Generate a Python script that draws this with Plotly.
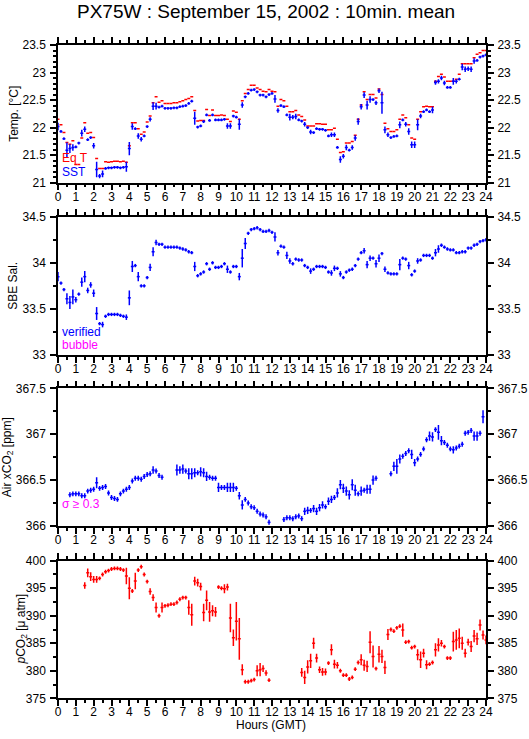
import plotly.graph_objects as go

N = None

# ---------------- data: 10-min means, one row per hour (6 values), last value at 24:00 ----
sst_rows = [
    [22.02, 21.93, 21.80, 21.59, 21.62, 21.64],
    [21.65, 21.72, 21.90, 21.97, 21.78, 21.82],
    [21.67, 21.24, 21.12, 21.16, 21.26, 21.27],
    [21.27, 21.28, 21.28, 21.27, 21.28, 21.29],
    [21.62, 22.02, 21.98, 21.85, 21.79, 21.85],
    [22.02, 22.15, 22.39, 22.39, 22.37, 22.39],
    [22.35, 22.35, 22.35, 22.36, 22.36, 22.38],
    [22.39, 22.40, 22.44, 22.48, 22.17, 22.01],
    [22.03, 22.11, 22.23, 22.13, 22.23, 22.14],
    [22.14, 22.14, 22.15, 22.03, 22.03, 22.21],
    [22.19, 22.06, 22.41, 22.56, 22.62, 22.68],
    [22.69, 22.65, 22.59, 22.59, 22.56, 22.60],
    [22.62, 22.52, 22.31, 22.40, 22.38, 22.23],
    [22.19, 22.19, 22.20, 22.14, 22.12, 22.06],
    [22.00, 21.92, 21.91, 21.98, 21.97, 21.97],
    [21.95, 21.85, 21.87, 21.87, 21.64, 21.42],
    [21.48, 21.64, 21.59, 21.64, 21.81, 22.11],
    [22.38, 22.59, 22.41, 22.51, 22.51, 22.45],
    [22.67, 22.45, 21.96, 21.87, 21.82, 21.84],
    [21.85, 22.05, 22.14, 22.06, 21.93, 21.69],
    [21.69, 22.05, 22.21, 22.29, 22.32, 22.29],
    [22.32, 22.82, 22.84, 22.90, 22.81, 22.73],
    [22.73, 22.84, 22.84, 22.88, 23.10, 23.06],
    [23.07, 23.06, 23.21, 23.22, 23.28, 23.30],
    [23.32],
]
eqt_rows = [
    [22.15, 22.05, 21.91, 21.73, 21.70, 21.76],
    [21.33, 21.33, 21.81, 22.09, 21.90, 21.91],
    [21.82, 21.44, 21.26, 21.26, 21.38, 21.37],
    [21.38, 21.39, 21.39, 21.38, 21.39, 21.37],
    [21.67, 22.09, 22.09, 21.98, 21.88, 21.92],
    [22.10, 22.21, 22.45, 22.56, 22.46, 22.49],
    [22.44, 22.44, 22.44, 22.45, 22.45, 22.47],
    [22.49, 22.51, 22.53, 22.56, 22.31, 22.12],
    [22.13, 22.13, 22.33, 22.22, 22.32, 22.22],
    [22.22, 22.23, 22.22, 22.15, 22.11, 22.30],
    [22.28, 22.15, 22.49, 22.62, 22.69, 22.77],
    [22.77, 22.72, 22.69, 22.66, 22.65, 22.69],
    [22.66, 22.65, 22.39, 22.51, 22.49, 22.39],
    [22.29, 22.29, 22.31, 22.23, 22.20, 22.14],
    [22.03, 22.03, 22.03, 22.07, 22.07, 22.06],
    [22.06, 21.96, 21.96, 21.99, 21.79, 21.55],
    [21.56, 21.72, 21.72, 21.75, 21.86, 22.15],
    [22.41, 22.65, 22.51, 22.60, 22.60, 22.54],
    [22.70, 22.60, 22.08, 21.98, 21.93, 21.93],
    [21.96, 22.15, 22.23, 22.18, 22.05, 21.81],
    [21.79, 22.15, 22.29, 22.38, 22.39, 22.38],
    [22.38, 22.84, 22.93, 22.97, 22.92, 22.84],
    [22.84, 22.84, 22.88, 22.97, 23.16, 23.16],
    [23.16, 23.16, 23.27, 23.33, 23.36, 23.40],
    [23.40],
]
sal_rows = [
    [33.85, 33.78, 33.71, 33.61, 33.57, 33.63],
    [33.60, 33.66, 33.79, 33.85, 33.70, 33.76],
    [33.67, 33.45, 33.34, 33.33, 33.42, 33.44],
    [33.44, 33.44, 33.44, 33.43, 33.42, 33.41],
    [33.62, 33.96, 33.97, 33.85, 33.75, 33.75],
    [33.84, 33.95, 34.12, 34.22, 34.20, 34.20],
    [34.17, 34.17, 34.17, 34.17, 34.17, 34.16],
    [34.15, 34.14, 34.12, 34.11, 33.96, 33.86],
    [33.88, 33.90, 33.99, 33.93, 34.00, 33.95],
    [33.95, 33.96, 33.99, 33.93, 33.90, 33.96],
    [33.96, 33.85, 34.05, 34.21, 34.32, 34.36],
    [34.37, 34.38, 34.36, 34.34, 34.34, 34.35],
    [34.33, 34.28, 34.11, 34.18, 34.17, 34.08],
    [34.02, 33.99, 34.04, 34.03, 34.03, 33.97],
    [33.95, 33.91, 33.93, 33.96, 33.96, 33.96],
    [33.95, 33.90, 33.89, 33.94, 33.94, 33.88],
    [33.84, 33.90, 33.92, 33.93, 33.97, 34.04],
    [34.11, 34.13, 33.98, 34.05, 34.05, 33.99],
    [34.05, 34.10, 33.93, 33.89, 33.88, 33.88],
    [33.88, 33.98, 34.05, 34.04, 33.97, 33.87],
    [33.91, 34.02, 34.03, 34.08, 34.08, 34.08],
    [34.05, 34.11, 34.15, 34.19, 34.17, 34.15],
    [34.14, 34.14, 34.11, 34.11, 34.12, 34.12],
    [34.16, 34.16, 34.19, 34.20, 34.23, 34.24],
    [34.25],
]
xco2_rows = [
    [N, N, N, N, 366.34, 366.35],
    [366.35, 366.35, 366.33, 366.33, 366.38, 366.39],
    [366.40, 366.47, 366.41, 366.42, 366.43, 366.36],
    [366.31, 366.30, 366.29, 366.35, 366.38, 366.40],
    [366.42, 366.49, 366.52, 366.52, 366.51, 366.54],
    [366.56, 366.57, 366.61, 366.60, 366.55, 366.53],
    [N, N, N, N, 366.61, 366.61],
    [366.62, 366.60, 366.57, 366.57, 366.58, 366.58],
    [366.59, 366.58, 366.54, 366.53, 366.52, 366.52],
    [366.42, 366.42, 366.42, 366.42, 366.42, 366.42],
    [366.41, 366.33, 366.23, 366.29, 366.25, 366.21],
    [366.20, 366.16, 366.13, 366.12, 366.10, 366.04],
    [N, N, N, N, 366.07, 366.09],
    [366.09, 366.08, 366.10, 366.11, 366.08, 366.16],
    [366.17, 366.17, 366.19, 366.16, 366.20, 366.23],
    [366.21, 366.27, 366.29, 366.31, 366.36, 366.45],
    [366.41, 366.38, 366.34, 366.45, 366.39, 366.35],
    [366.38, 366.39, 366.40, 366.40, 366.50, 366.52],
    [N, N, N, N, 366.57, 366.65],
    [366.65, 366.73, 366.76, 366.79, 366.82, 366.78],
    [366.69, 366.73, 366.78, 366.84, 366.94, 366.98],
    [366.97, 367.05, 367.02, 366.93, 366.91, 366.88],
    [366.84, 366.83, 366.85, 366.87, 366.89, 367.01],
    [367.02, 367.04, 366.98, 366.98, 367.01, 367.19],
    [N],
]
pco2_rows = [
    [N, N, N, N, N, N],
    [N, N, N, 395.5, 397.8, 397.1],
    [396.6, 396.6, 396.8, 397.5, 398.0, 398.2],
    [398.5, 398.6, 398.6, 398.5, 398.3, 397.2],
    [395.0, 394.5, 396.3, 398.3, 398.9, 397.5],
    [396.2, 394.4, 393.3, 391.5, 390.0, 391.5],
    [391.8, 391.9, 392.1, 392.1, 392.4, 393.0],
    [393.3, 393.3, 391.5, 390.2, 396.3, 396.0],
    [395.3, 390.6, 392.8, 390.7, 390.9, 390.7],
    [395.2, 395.0, 394.9, 395.2, 389.6, 386.0],
    [389.0, 385.8, 380.2, 378.0, 378.0, 378.2],
    [378.4, 380.0, 380.2, 380.4, 379.6, 378.3],
    [N, N, N, N, N, N],
    [N, N, N, N, 379.7, 378.8],
    [380.7, 381.8, 385.0, 382.3, 380.2, 379.8],
    [379.8, 381.4, 383.8, 381.2, 381.0, 380.0],
    [379.2, 379.2, 378.5, 378.8, 380.3, 381.5],
    [382.0, 381.0, 380.8, 385.2, 382.6, 380.4],
    [383.0, 382.6, 380.6, 386.6, 387.5, 387.2],
    [387.8, 388.1, 387.4, 385.2, 385.3, 384.2],
    [384.4, 382.9, 382.0, 383.2, 381.1, 381.2],
    [381.5, 383.8, 384.7, 385.0, 384.4, 382.3],
    [382.3, 385.3, 385.6, 385.9, 385.0, 383.2],
    [385.2, 384.4, 386.3, 385.8, 388.3, 386.5],
    [385.6],
]

# standard deviations (vertical bars): typical value + larger ones by time (h)
sst_sd_typ = 0.025
sst_sd_big = {0.0: 0.07, 0.5: 0.14, 0.67: 0.08, 0.83: 0.06, 1.33: 0.06, 1.5: 0.05, 2.0: 0.05,
              2.17: 0.14, 2.33: 0.04, 2.5: 0.06, 3.83: 0.09, 4.0: 0.12, 4.17: 0.06, 4.5: 0.05,
              4.67: 0.04, 5.17: 0.04, 5.33: 0.07, 5.5: 0.06, 7.67: 0.12, 9.5: 0.05, 9.67: 0.05,
              10.17: 0.1, 10.33: 0.05, 12.17: 0.07, 12.33: 0.04, 13.0: 0.06, 13.17: 0.04,
              13.33: 0.05, 13.83: 0.04, 14.17: 0.04, 15.33: 0.04, 15.5: 0.04, 15.83: 0.06,
              16.0: 0.04, 16.17: 0.05, 16.5: 0.04, 16.67: 0.05, 16.83: 0.06, 17.0: 0.05,
              17.17: 0.05, 17.33: 0.08, 17.5: 0.06, 17.83: 0.04, 18.0: 0.04, 18.17: 0.2,
              18.33: 0.06, 18.5: 0.04, 19.17: 0.06, 19.5: 0.04, 19.67: 0.06, 19.83: 0.06,
              20.0: 0.06, 20.17: 0.1, 20.33: 0.04, 21.0: 0.06, 21.17: 0.04, 21.33: 0.04,
              21.5: 0.04, 21.67: 0.04, 22.17: 0.06, 22.33: 0.04, 22.67: 0.06, 22.83: 0.05,
              23.0: 0.04, 23.17: 0.05, 23.33: 0.05}
sal_sd_typ = 0.018
sal_sd_big = {0.0: 0.05, 0.5: 0.06, 0.67: 0.07, 0.83: 0.08, 1.0: 0.03, 1.33: 0.05, 1.5: 0.06,
              1.67: 0.03, 1.83: 0.03, 2.0: 0.04, 2.17: 0.07, 2.5: 0.03, 3.83: 0.03, 4.0: 0.08,
              4.17: 0.06, 4.5: 0.05, 5.17: 0.04, 5.33: 0.05, 5.5: 0.03, 7.67: 0.05, 9.5: 0.04,
              10.17: 0.04, 10.33: 0.1, 10.5: 0.06, 12.17: 0.05, 12.33: 0.03, 12.83: 0.04,
              13.0: 0.03, 14.17: 0.03, 15.33: 0.03, 15.5: 0.03, 15.83: 0.03, 17.17: 0.03,
              17.33: 0.04, 17.5: 0.03, 17.83: 0.04, 18.0: 0.04, 18.33: 0.03, 19.17: 0.06,
              19.67: 0.04, 20.17: 0.03, 21.17: 0.04, 21.33: 0.04}
xco2_sd_typ = 0.027
xco2_sd_big = {2.17: 0.06, 5.33: 0.04, 6.67: 0.06, 6.83: 0.04, 7.0: 0.05, 7.33: 0.06, 7.5: 0.06,
               7.67: 0.05, 8.0: 0.05, 8.17: 0.05, 8.33: 0.05, 9.0: 0.05, 9.5: 0.05, 9.67: 0.05,
               9.83: 0.05, 10.17: 0.04, 10.33: 0.05, 13.83: 0.04, 14.0: 0.04, 14.33: 0.04,
               14.5: 0.04, 14.67: 0.04, 14.83: 0.04, 15.17: 0.04, 15.33: 0.04, 15.67: 0.05,
               15.83: 0.05, 16.0: 0.05, 16.17: 0.05, 16.33: 0.05, 16.5: 0.06, 16.67: 0.06,
               17.0: 0.05, 17.33: 0.05, 17.5: 0.05, 17.67: 0.05, 18.83: 0.05, 19.0: 0.08,
               19.17: 0.05, 19.83: 0.05, 20.0: 0.04, 20.83: 0.05, 21.0: 0.05, 21.33: 0.08,
               21.5: 0.05, 22.17: 0.04, 23.33: 0.05, 23.5: 0.05, 23.83: 0.07}
pco2_sd_typ = 0.35
pco2_sd_big = {1.5: 0.6, 1.67: 0.8, 1.83: 0.8, 2.0: 0.6, 2.17: 0.6, 3.83: 1.5, 4.0: 2.0,
               4.33: 1.5, 5.17: 0.6, 5.33: 0.6, 5.5: 0.9, 5.83: 0.9, 7.33: 1.3, 7.5: 2.0,
               7.67: 0.8, 7.83: 0.7, 8.0: 0.7, 8.17: 1.6, 8.33: 1.8, 8.5: 1.8, 8.67: 1.0,
               8.83: 0.9, 9.33: 0.8, 9.5: 0.6, 9.67: 2.6, 9.83: 1.5, 10.0: 3.5, 10.17: 3.8,
               10.33: 1.0, 11.17: 1.0, 11.33: 1.2, 11.5: 0.6, 11.67: 0.5, 13.67: 0.8,
               13.83: 1.2, 14.0: 1.2, 14.17: 1.3, 14.33: 1.0, 14.5: 0.8, 14.67: 0.6, 14.83: 0.7,
               15.0: 0.6, 15.33: 1.0, 15.5: 0.8, 15.67: 0.6, 17.0: 1.0, 17.17: 1.0, 17.33: 1.0,
               17.5: 2.0, 17.67: 2.0, 18.0: 1.5, 18.17: 1.2, 18.33: 1.2, 18.5: 1.0, 19.33: 1.2,
               20.17: 1.0, 20.33: 1.5, 20.5: 0.8, 20.67: 0.8, 21.17: 1.2, 21.33: 1.2, 21.5: 0.6,
               22.17: 1.8, 22.33: 1.8, 22.5: 1.8, 22.67: 1.2, 22.83: 0.8, 23.0: 0.6, 23.17: 1.0,
               23.33: 1.1, 23.5: 1.1, 23.67: 1.0, 23.83: 0.8, 24.0: 0.8}

half_interval = 5 / 60  # each mean covers 10 minutes

x_ticks = list(range(25))
panel_ranges = [[21, 23.5], [33, 34.5], [366, 367.5], [375, 400]]
panel_dtick = [0.5, 0.5, 0.5, 5]
panel_minor = [0.1, 0.25, 0.25, 2.5]


def flat(rows):
    return [v for r in rows for v in r]


sst, eqt, sal, xco2, pco2 = (flat(r) for r in (sst_rows, eqt_rows, sal_rows, xco2_rows, pco2_rows))
t = [k / 6 for k in range(len(sst))]


def sds(vals, typ, big):
    return [None if v is None else big.get(round(k / 6, 2), typ) for k, v in enumerate(vals)]


BLUE, RED, MAG = "#0000ff", "#ff0000", "#ff00ff"
FONT = "Liberation Sans, Arial, Helvetica, sans-serif"
W, H = 529, 739
LW = 1.5
FS = 12

fig = go.Figure()


def add(vals, color, axis_i, sd=None):
    ex = dict(type="constant", value=half_interval, width=0, thickness=LW, color=color)
    kw = dict(x=t, y=vals, mode="markers",
              marker=dict(size=2, color=color, opacity=0),
              error_x=ex, showlegend=False, hoverinfo="skip",
              xaxis=f"x{axis_i}", yaxis=f"y{axis_i}")
    if sd is not None:
        kw["error_y"] = dict(type="data", array=sd, width=0, thickness=LW, color=color)
    fig.add_trace(go.Scatter(**kw))


add(eqt, RED, 1)
add(sst, BLUE, 1, sds(sst, sst_sd_typ, sst_sd_big))
add(sal, BLUE, 2, sds(sal, sal_sd_typ, sal_sd_big))
add(xco2, BLUE, 3, sds(xco2, xco2_sd_typ, xco2_sd_big))
add(pco2, RED, 4, sds(pco2, pco2_sd_typ, pco2_sd_big))

# invisible traces for right-side label axes
for i in range(4):
    fig.add_trace(go.Scatter(x=[None], y=[None], xaxis=f"x{i+1}", yaxis=f"y{i+5}",
                             showlegend=False, hoverinfo="skip"))

xdom = [58 / W, 486 / W]
tops = [45, 216.7, 388.3, 560.7]
bots = [182.7, 355, 526, 698.3]

tickfont = dict(family=FONT, size=FS, color="black")
layout = dict(
    template="none",
    width=W, height=H, autosize=False,
    margin=dict(l=0, r=0, t=0, b=0, pad=0),
    paper_bgcolor="white", plot_bgcolor="white",
    font=dict(family=FONT, size=FS, color="black"),
    showlegend=False,
)
for i in range(4):
    n = i + 1
    ydom = [1 - bots[i] / H, 1 - tops[i] / H]
    layout[f"xaxis{n}"] = dict(
        domain=xdom, anchor=f"y{n}", range=[0, 24], tickmode="array", tickvals=x_ticks,
        ticktext=[str(v) for v in x_ticks], automargin=False, ticklabelstandoff=-4,
        ticks="outside", ticklen=6, tickwidth=LW, tickcolor="black",
        minor=dict(dtick=0.5, ticks="outside", ticklen=3, tickwidth=LW, tickcolor="black",
                   showgrid=False),
        showline=True, linecolor="black", linewidth=LW, mirror="ticks",
        showgrid=False, zeroline=False, tickfont=tickfont, fixedrange=True,
    )
    common_y = dict(domain=ydom, anchor=f"x{n}", range=panel_ranges[i], dtick=panel_dtick[i],
                    tick0=panel_ranges[i][0], showgrid=False, zeroline=False,
                    tickfont=tickfont, fixedrange=True, automargin=False)
    layout[f"yaxis{n}"] = dict(
        **common_y, side="left",
        ticks="outside", ticklen=6, tickwidth=LW, tickcolor="black", ticklabelstandoff=2,
        minor=dict(dtick=panel_minor[i], ticks="outside", ticklen=3, tickwidth=LW,
                   tickcolor="black", showgrid=False),
        showline=True, linecolor="black", linewidth=LW, mirror="ticks",
    )
    layout[f"yaxis{n+4}"] = dict(
        **common_y, side="right", overlaying=f"y{n}",
        ticks="outside", ticklen=8, tickcolor="rgba(0,0,0,0)", showline=False,
    )

fig.update_layout(**layout)

ytitles = ["Temp. [°C]", "SBE Sal.", "Air xCO<sub>2</sub> [ppm]", "<i>p</i>CO<sub>2</sub> [μ atm]"]
ytitle_x = [14, 13, 8, 21]
ann = []
for i in range(4):
    ann.append(dict(text=ytitles[i], x=ytitle_x[i] / W, y=1 - (tops[i] + bots[i]) / 2 / H,
                    xref="paper", yref="paper", showarrow=False, textangle=-90,
                    xanchor="center", yanchor="middle", font=dict(size=FS, color="black")))

labels = [("Eq T", RED, 158), ("SST", BLUE, 172), ("verified", BLUE, 332),
          ("bubble", MAG, 345), ("σ ≥ 0.3", MAG, 504)]
for txt, col, yy in labels:
    ann.append(dict(text=txt, x=60 / W, y=1 - yy / H, xref="paper", yref="paper",
                    showarrow=False, xanchor="left", yanchor="middle",
                    font=dict(size=FS, color=col)))

ann.append(dict(text="Hours (GMT)", x=271 / W, y=1 - 725 / H, xref="paper", yref="paper",
                showarrow=False, xanchor="center", yanchor="middle",
                font=dict(size=FS, color="black")))
ann.append(dict(text="PX75W : September 15, 2002 : 10min. mean", x=266 / W, y=1 - 11 / H,
                xref="paper", yref="paper", showarrow=False, xanchor="center",
                yanchor="middle", font=dict(size=19, color="black")))
fig.update_layout(annotations=ann)

# the page's default body margin would shift the figure off the 529x739 window
fig.write_html("out.html", config={"displayModeBar": False},
               post_script="document.body.style.margin='0px';")
